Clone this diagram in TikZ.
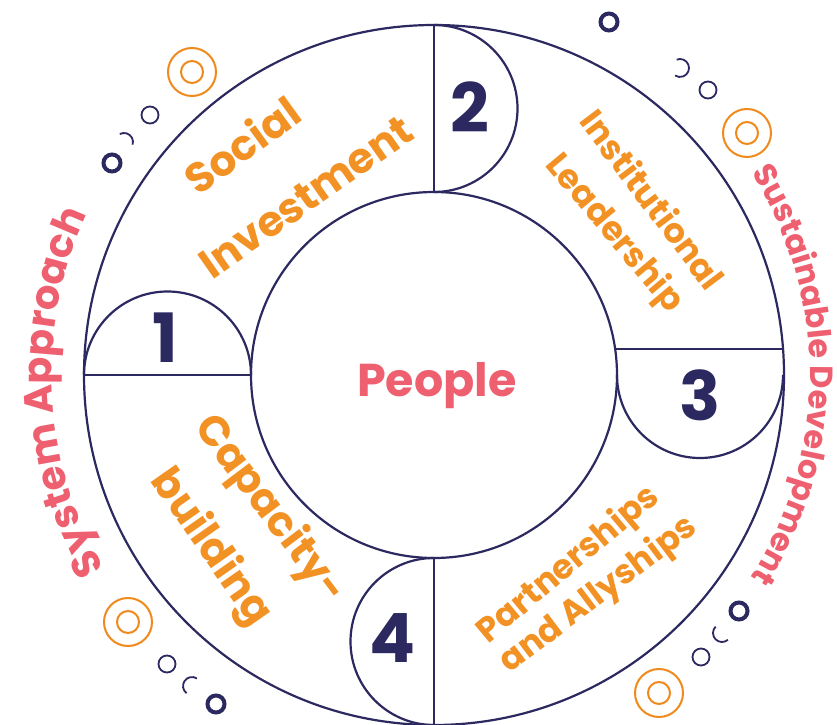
\documentclass[tikz,border=0pt]{standalone}
\usepackage{fontspec}
\setmainfont{Poppins}
\usetikzlibrary{decorations.text,calc}
\definecolor{navy}{HTML}{2B2960}
\definecolor{orangetxt}{HTML}{F39224}
\definecolor{pinktxt}{HTML}{EE6070}
\definecolor{ringorange}{HTML}{F08A1C}
\newcommand{\leftcurvefont}{\color{pinktxt}\fontsize{40}{40}\selectfont\bfseries}
\newcommand{\rightcurvefont}{\color{pinktxt}\fontsize{32}{32}\selectfont\bfseries}
\tikzset{
  ln/.style={draw=navy, line width=2.2pt},
  biglab/.style={text=orangetxt, font=\fontsize{42}{45}\selectfont\bfseries, inner sep=0pt, text height=29pt, text depth=0pt},
  smalllab/.style={text=orangetxt, font=\fontsize{34}{38}\selectfont\bfseries, inner sep=0pt, text height=24pt, text depth=0pt},
  centrelab/.style={text=pinktxt, font=\fontsize{46}{50}\selectfont\bfseries, inner sep=0pt, text height=32pt, text depth=0pt},
  numlab/.style={text=navy, font=\fontsize{68}{68}\selectfont\bfseries, inner sep=0pt, text height=48pt, text depth=0pt},
  ring/.style={draw=ringorange, line width=2pt},
  thinring/.style={draw=navy, line width=1.8pt},
  thickring/.style={draw=navy, line width=4pt},
}
\begin{document}
\begin{tikzpicture}[x=1pt,y=1pt]
\useasboundingbox[fill=white] (0,0) rectangle (837,724);
\coordinate (C) at (434,349);
% circles
\draw[ln] (C) circle[radius=350];
\draw[ln] (C) circle[radius=183];
% dividing lines
\draw[ln] (84,349) -- (251,349);
\draw[ln] (434,699) -- (434,532);
\draw[ln] (615.1,375) -- (783,375);
\draw[ln] (434,166) -- (434,-2);
% number caps
\draw[ln] (84,349) arc[start angle=180, end angle=0, radius=83.5];
\draw[ln] (434,699) arc[start angle=90, end angle=-90, radius=83.5];
\draw[ln] (617,349) arc[start angle=180, end angle=360, radius=83];
\draw[ln] (434,166) arc[start angle=90, end angle=270, radius=83.5];
% numbers
\node[numlab] (n1) at (165,386) {1};
\node[numlab] (n2) at (470,615) {2};
\node[numlab] (n3) at (700,328) {3};
\node[numlab] (n4) at (393,86) {4};
% centre
\node[centrelab] (people) at (437,344) {People};
% segment labels
\node[biglab, rotate=36] (social) at (243,578) {Social};
\node[biglab, rotate=35] (invest) at (306,527) {Investment};
\node[smalllab, rotate=-53] (inst) at (652,524) {Institutional};
\node[smalllab, rotate=-50] (lead) at (616,492) {Leadership};
\node[biglab, rotate=-53] (cap) at (272,216) {Capacity-};
\node[biglab, rotate=-55] (build) at (213,178) {building};
\node[smalllab, rotate=40] (part) at (567,161) {Partnerships};
\node[smalllab, rotate=37] (ally) at (597,131) {and Allyships};
% curved texts
\path[decorate, decoration={text along path, text align=center, text={|\leftcurvefont|System Approach}}]
  ($(C)+(222.75:382)$) arc[start angle=222.75, end angle=142.75, radius=382];
\path[decorate, decoration={text along path, text align=center, text={|\rightcurvefont|Sustainable Development}}]
  ($(C)+(40:376)$) arc[start angle=40, end angle=-40, radius=376];
% decorative rings: top-left
\draw[ring] (192,652) circle[radius=24] (192,652) circle[radius=11];
\draw[thinring] (150,609) circle[radius=8.5];
\draw[thinring] ($(124,582)+(118:9)$) arc[start angle=118, end angle=-17, radius=9];
\draw[thickring] (112,561) circle[radius=8.5];
% top-right
\draw[thickring] (609,702) circle[radius=8.5];
\draw[thinring] ($(680,656)+(112:9)$) arc[start angle=112, end angle=-123, radius=9];
\draw[thinring] (708,634) circle[radius=8.5];
\draw[ring] (747,591) circle[radius=24] (747,591) circle[radius=11];
% bottom-right
\draw[thickring] (739,113) circle[radius=8.5];
\draw[thinring] ($(722,91)+(135:9)$) arc[start angle=135, end angle=311, radius=9];
\draw[thinring] (701,67) circle[radius=8.5];
\draw[ring] (659,31) circle[radius=24] (659,31) circle[radius=11];
% bottom-left
\draw[ring] (128,102) circle[radius=24] (128,102) circle[radius=11];
\draw[thinring] (167,60) circle[radius=8.5];
\draw[thinring] ($(192,38)+(57:9)$) arc[start angle=57, end angle=233, radius=9];
\draw[thickring] (216,20) circle[radius=8.5];
\end{tikzpicture}
\end{document}
